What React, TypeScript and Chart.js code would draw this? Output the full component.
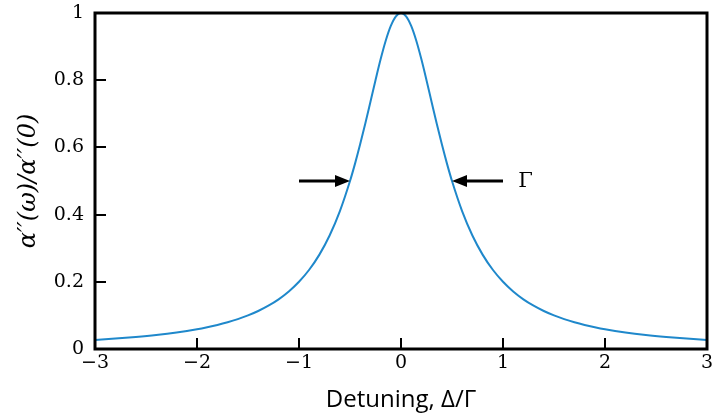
import React, { useEffect, useRef } from "react";
import { Chart, registerables } from "chart.js";

Chart.register(...registerables);

const detuning: number[] = [
  -3.0, -2.8, -2.6, -2.4, -2.2, -2.0, -1.9, -1.8, -1.7, -1.6, -1.5, -1.4, -1.3, -1.2, -1.1,
  -1.0, -0.9, -0.8, -0.7, -0.6, -0.5, -0.45, -0.4, -0.35, -0.3, -0.25, -0.2, -0.15, -0.1, -0.05,
  0.0,
  0.05, 0.1, 0.15, 0.2, 0.25, 0.3, 0.35, 0.4, 0.45, 0.5, 0.6, 0.7, 0.8, 0.9, 1.0,
  1.1, 1.2, 1.3, 1.4, 1.5, 1.6, 1.7, 1.8, 1.9, 2.0, 2.2, 2.4, 2.6, 2.8, 3.0,
];
const response: number[] = [
  0.027, 0.0309, 0.0357, 0.0416, 0.0491, 0.0588, 0.0648, 0.0716, 0.0796, 0.089, 0.1, 0.1131, 0.1289, 0.1479, 0.1712,
  0.2, 0.2358, 0.2809, 0.3378, 0.4098, 0.5, 0.5525, 0.6098, 0.6711, 0.7353, 0.8, 0.8621, 0.9174, 0.9615, 0.9901,
  1.0,
  0.9901, 0.9615, 0.9174, 0.8621, 0.8, 0.7353, 0.6711, 0.6098, 0.5525, 0.5, 0.4098, 0.3378, 0.2809, 0.2358, 0.2,
  0.1712, 0.1479, 0.1289, 0.1131, 0.1, 0.089, 0.0796, 0.0716, 0.0648, 0.0588, 0.0491, 0.0416, 0.0357, 0.0309, 0.027,
];
const xTicks: number[] = [-3, -2, -1, 0, 1, 2, 3];
const yTicks: number[] = [0, 0.2, 0.4, 0.6, 0.8, 1];
const xTickLabels: string[] = ["\u22123", "\u22122", "\u22121", "0", "1", "2", "3"];
const yTickLabels: string[] = ["0", "0.2", "0.4", "0.6", "0.8", "1"];
// arrows marking the half maximum: [tail x, tip x, y]
const leftArrow: number[] = [-1.0, -0.5, 0.5];
const rightArrow: number[] = [1.0, 0.5, 0.5];
const gammaLabel = { x: 1.15, y: 0.5, text: "Γ" };

const SERIF = "'DejaVu Serif', serif";

const framePlugin = {
  id: "frame",
  afterDraw(chart: any) {
    const { ctx, chartArea: a, scales } = chart;
    const xs = scales.x;
    const ys = scales.y;
    ctx.save();
    ctx.strokeStyle = "#000";
    ctx.lineWidth = 2;
    ctx.beginPath();
    xTicks.forEach((v) => {
      const px = Math.round(xs.getPixelForValue(v));
      ctx.moveTo(px, a.bottom);
      ctx.lineTo(px, a.bottom - 11);
    });
    yTicks.forEach((v) => {
      const py = Math.round(ys.getPixelForValue(v));
      ctx.moveTo(a.left, py);
      ctx.lineTo(a.left + 11, py);
    });
    ctx.stroke();
    ctx.lineWidth = 3;
    ctx.strokeRect(a.left, a.top, a.right - a.left, a.bottom - a.top);

    // tick labels in serif, placed by the scales
    ctx.fillStyle = "#000";
    ctx.font = "19px " + SERIF;
    ctx.textAlign = "center";
    ctx.textBaseline = "top";
    xTicks.forEach((v, i) => {
      ctx.fillText(xTickLabels[i], xs.getPixelForValue(v), a.bottom + 5);
    });
    ctx.textAlign = "right";
    ctx.textBaseline = "middle";
    yTicks.forEach((v, i) => {
      ctx.fillText(yTickLabels[i], a.left - 11, ys.getPixelForValue(v));
    });

    const drawArrow = (arr: number[]) => {
      const x0 = xs.getPixelForValue(arr[0]);
      const x1 = xs.getPixelForValue(arr[1]);
      const y = ys.getPixelForValue(arr[2]);
      const dir = Math.sign(x1 - x0);
      const head = 15;
      ctx.lineWidth = 3;
      ctx.beginPath();
      ctx.moveTo(x0, y);
      ctx.lineTo(x1 - dir * head, y);
      ctx.stroke();
      ctx.fillStyle = "#000";
      ctx.beginPath();
      ctx.moveTo(x1, y);
      ctx.lineTo(x1 - dir * head, y - 6);
      ctx.lineTo(x1 - dir * head, y + 6);
      ctx.closePath();
      ctx.fill();
    };
    drawArrow(leftArrow);
    drawArrow(rightArrow);

    ctx.fillStyle = "#000";
    ctx.font = "21px " + SERIF;
    ctx.textAlign = "left";
    ctx.textBaseline = "middle";
    ctx.fillText(gammaLabel.text, xs.getPixelForValue(gammaLabel.x), ys.getPixelForValue(gammaLabel.y) + 1);
    ctx.restore();
  },
};

const zeroPad = (s: any) => {
  s.paddingTop = 0;
  s.paddingBottom = 0;
  s.paddingLeft = 0;
  s.paddingRight = 0;
};

export default function App() {
  const ref = useRef<HTMLCanvasElement | null>(null);
  useEffect(() => {
    if (!ref.current) return;
    const chart = new Chart(ref.current, {
      type: "line",
      data: {
        datasets: [
          {
            data: detuning.map((x, i) => ({ x, y: response[i] })),
            borderColor: "#1f88cb",
            borderWidth: 2,
            pointRadius: 0,
            cubicInterpolationMode: "monotone",
            fill: false,
          },
        ],
      },
      options: {
        animation: false,
        responsive: false,
        maintainAspectRatio: false,
        layout: { padding: { left: 8, right: 6, top: 13, bottom: 0 } },
        plugins: { legend: { display: false }, tooltip: { enabled: false } },
        scales: {
          x: {
            type: "linear",
            min: -3,
            max: 3,
            afterBuildTicks: (s: any) => {
              s.ticks = xTicks.map((v) => ({ value: v }));
            },
            afterFit: (s: any) => {
              s.height = 71;
              zeroPad(s);
            },
            grid: { display: false, drawTicks: false },
            border: { display: false },
            ticks: { display: false },
            title: {
              display: true,
              text: "Detuning, Δ/Γ",
              color: "#000",
              font: { family: "'Open Sans', sans-serif", size: 24 },
              padding: { top: 5, bottom: 5 },
            },
          },
          y: {
            type: "linear",
            min: 0,
            max: 1,
            afterBuildTicks: (s: any) => {
              s.ticks = yTicks.map((v) => ({ value: v }));
            },
            afterFit: (s: any) => {
              s.width = 87;
              zeroPad(s);
            },
            grid: { display: false, drawTicks: false },
            border: { display: false },
            ticks: { display: false },
            title: {
              display: true,
              text: "α′′(ω)/α′′(0)",
              color: "#000",
              font: { family: SERIF, size: 24, style: "italic" },
              padding: { top: 6, bottom: 6 },
            },
          },
        },
      },
      plugins: [framePlugin],
    } as any);
    return () => chart.destroy();
  }, []);
  return (
    <div style={{ position: "fixed", left: 0, top: 0, width: 713, height: 420, background: "#fff" }}>
      <canvas ref={ref} width={713} height={420} style={{ width: 713, height: 420 }} />
    </div>
  );
}
